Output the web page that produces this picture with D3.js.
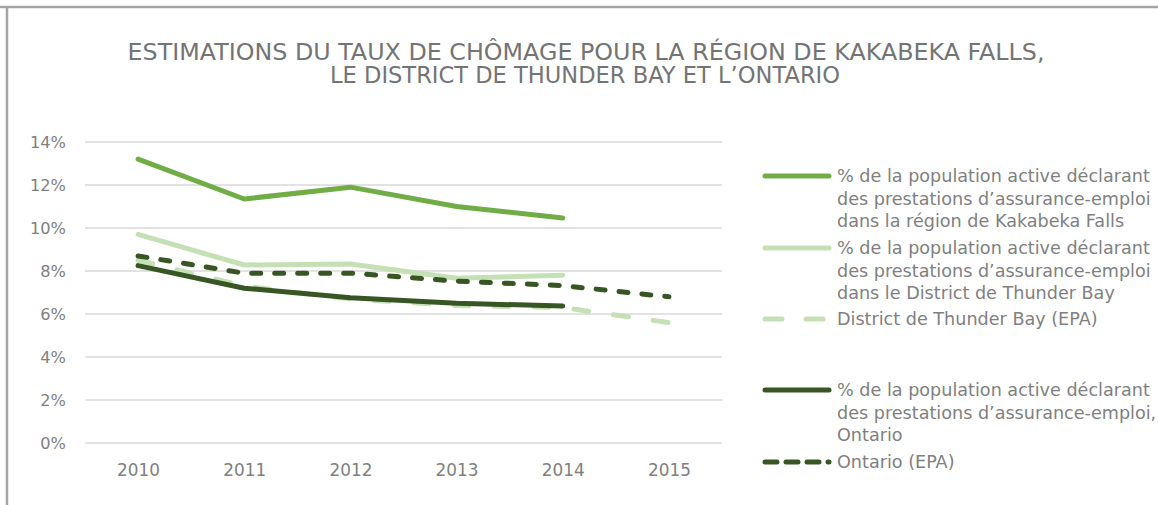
<!DOCTYPE html>
<html><head><meta charset="utf-8">
<script src="https://cdn.jsdelivr.net/npm/d3@7"></script>
<style>
body{margin:0;background:#fff;}
svg text{font-family:"DejaVu Sans",sans-serif;}
</style></head>
<body><svg id="c" width="1158" height="505"></svg>
<script>
const years = ["2010","2011","2012","2013","2014","2015"];
const yTicks = [0,2,4,6,8,10,12,14];
const kakabekaEI = [13.2,11.35,11.9,11.0,10.47,null];
const thunderEI = [9.7,8.28,8.33,7.66,7.8,null];
const thunderLFS = [8.5,7.3,6.7,6.4,6.3,5.6];
const ontarioEI = [8.25,7.2,6.76,6.5,6.37,null];
const ontarioLFS = [8.7,7.9,7.9,7.53,7.32,6.8];
const titleLines = ["ESTIMATIONS DU TAUX DE CHÔMAGE POUR LA RÉGION DE KAKABEKA FALLS,","LE DISTRICT DE THUNDER BAY ET L’ONTARIO"];
const series = [
  {name:["% de la population active déclarant","des prestations d’assurance-emploi","dans la région de Kakabeka Falls"], values:kakabekaEI, color:"#70ad47", dash:null},
  {name:["% de la population active déclarant","des prestations d’assurance-emploi","dans le District de Thunder Bay"], values:thunderEI, color:"#c5e0b4", dash:null},
  {name:["District de Thunder Bay (EPA)"], values:thunderLFS, color:"#c5e0b4", dash:"15,25"},
  {name:["% de la population active déclarant","des prestations d’assurance-emploi,","Ontario"], values:ontarioEI, color:"#375623", dash:null},
  {name:["Ontario (EPA)"], values:ontarioLFS, color:"#375623", dash:"9,14"}
];
const drawOrder = [2,1,0,4,3];

const svg = d3.select("#c");
svg.append("line").attr("x1",0).attr("x2",1158).attr("y1",7).attr("y2",7).attr("stroke","#a6a6a6").attr("stroke-width",2.5);
svg.append("line").attr("x1",7).attr("x2",7).attr("y1",6).attr("y2",505).attr("stroke","#a6a6a6").attr("stroke-width",2.5);

// title
svg.append("text").attr("x",586).attr("y",60).attr("text-anchor","middle").attr("fill","#747474")
  .attr("font-family","Liberation Sans Narrow, Lato").attr("font-size",23)
  .attr("textLength",917).attr("lengthAdjust","spacingAndGlyphs").text(titleLines[0]);
svg.append("text").attr("x",585).attr("y",83).attr("text-anchor","middle").attr("fill","#747474")
  .attr("font-family","Liberation Sans Narrow, Lato").attr("font-size",23)
  .attr("textLength",510).attr("lengthAdjust","spacingAndGlyphs").text(titleLines[1]);

const x = d3.scalePoint().domain(years).range([85,722]).padding(0.5);
const y = d3.scaleLinear().domain([0,14]).range([443,142]);

svg.append("g").selectAll("line").data(yTicks).join("line")
  .attr("x1",85).attr("x2",722).attr("y1",d=>y(d)).attr("y2",d=>y(d))
  .attr("stroke","#d9d9d9").attr("stroke-width",1.5);

function fitAll(sel, probe, target){
  const fs = parseFloat(probe.attr("font-size"));
  const w = probe.node().getComputedTextLength();
  sel.attr("font-size", fs*target/w);
}

const yAxis = svg.append("g").attr("transform","translate(66,0)")
  .call(d3.axisLeft(y).tickValues(yTicks).tickFormat(d=>d+"%").tickSize(0).tickPadding(0));
yAxis.select(".domain").remove();
yAxis.selectAll("text").attr("fill","#808080").attr("font-size",17).attr("font-family","DejaVu Sans").attr("dy","0.35em");
fitAll(yAxis.selectAll("text"), yAxis.selectAll("text").filter(d=>d===14), 36);

const xAxis = svg.append("g").attr("transform","translate(0,470)")
  .call(d3.axisBottom(x).tickSize(0).tickPadding(0));
xAxis.select(".domain").remove();
xAxis.selectAll("text").attr("fill","#808080").attr("font-size",17).attr("font-family","DejaVu Sans").attr("dy","0.35em");
fitAll(xAxis.selectAll("text"), xAxis.selectAll("text").filter(d=>d==="2010"), 43);

const line = d3.line().defined(d=>d.v!=null).x(d=>x(d.yr)).y(d=>y(d.v));
drawOrder.forEach(i=>{
  const s = series[i];
  const data = years.map((yr,j)=>({yr, v:s.values[j]}));
  svg.append("path").datum(data).attr("d",line)
    .attr("fill","none").attr("stroke",s.color).attr("stroke-width",5)
    .attr("stroke-linejoin","round").attr("stroke-linecap","round")
    .attr("stroke-dasharray",s.dash);
});

const legY = [176,248,319,390,462];
const legG = svg.append("g");
series.forEach((s,i)=>{
  const g = legG.append("g").attr("transform",`translate(0,${legY[i]})`);
  g.append("line").attr("x1",765).attr("x2",829).attr("y1",0).attr("y2",0)
    .attr("stroke",s.color).attr("stroke-width",5).attr("stroke-linecap","round")
    .attr("stroke-dasharray", s.dash ? (i===2?"17,24":"12,9") : null);
  s.name.forEach((ln,k)=>{
    g.append("text").attr("class","leg").attr("x",837).attr("y",k*22.5).attr("dy","0.35em")
      .attr("fill","#808080").attr("font-size",16).text(ln);
  });
});
fitAll(legG.selectAll("text.leg"), legG.select("text.leg"), 313);
</script></body></html>
